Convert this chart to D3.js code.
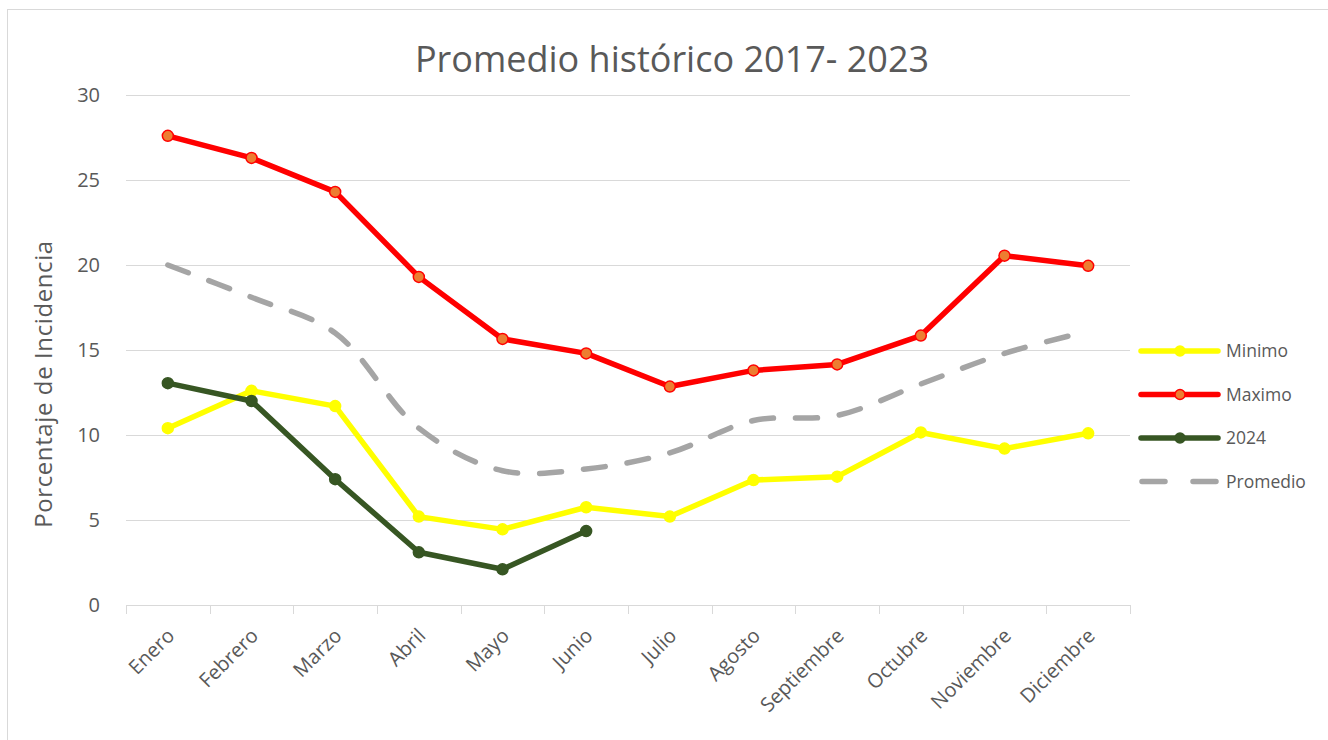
<!DOCTYPE html>
<html>
<head>
<meta charset="utf-8">
<script src="https://cdn.jsdelivr.net/npm/d3@7"></script>
<style>
  html, body { margin: 0; padding: 0; background: #fff; }
  svg { display: block; }
  text { font-family: "Open Sans", "Noto Sans", sans-serif; fill: #595959; }
</style>
</head>
<body>
<svg id="chart" width="1328" height="740"></svg>
<script>
const months = ["Enero","Febrero","Marzo","Abril","Mayo","Junio","Julio","Agosto","Septiembre","Octubre","Noviembre","Diciembre"];
const minimo   = [10.4, 12.6, 11.7, 5.2, 4.45, 5.75, 5.2, 7.35, 7.55, 10.15, 9.2, 10.1];
const maximo   = [27.6, 26.3, 24.3, 19.3, 15.65, 14.8, 12.85, 13.8, 14.15, 15.85, 20.55, 19.95];
const y2024    = [13.05, 12.0, 7.4, 3.1, 2.1, 4.35];
const promedio = [20.0, 18.1, 16.0, 10.4, 7.9, 8.0, 8.95, 10.85, 11.15, 13.0, 14.8, 16.1];
const yTicks   = [0, 5, 10, 15, 20, 25, 30];
const title    = "Promedio histórico 2017- 2023";
const yTitle   = "Porcentaje de Incidencia";

const svg = d3.select("#chart");

// outer chart border
svg.append("rect").attr("x", 7.5).attr("y", 9.5).attr("width", 1340).attr("height", 760)
  .attr("fill", "none").attr("stroke", "#d9d9d9").attr("stroke-width", 1);

const x = d3.scaleBand().domain(months).range([126, 1130]).paddingInner(0).paddingOuter(0);
const y = d3.scaleLinear().domain([0, 30]).range([605, 95]);
const cx = m => x(m) + x.bandwidth() / 2;

// gridlines
svg.append("g").selectAll("line").data(yTicks.filter(t => t > 0)).join("line")
  .attr("x1", 126).attr("x2", 1130)
  .attr("y1", d => Math.round(y(d)) + 0.5).attr("y2", d => Math.round(y(d)) + 0.5)
  .attr("stroke", "#d9d9d9").attr("stroke-width", 1);

// y axis labels
svg.append("g").selectAll("text").data(yTicks).join("text")
  .attr("x", 100).attr("y", d => y(d)).attr("dy", "0.35em")
  .attr("text-anchor", "end").attr("font-size", 20).text(d => d);

// x axis line and ticks
svg.append("line").attr("x1", 126).attr("x2", 1130).attr("y1", 605.5).attr("y2", 605.5)
  .attr("stroke", "#d9d9d9").attr("stroke-width", 1);
const boundaries = months.map(m => x(m)).concat([1130]);
svg.append("g").selectAll("line").data(boundaries).join("line")
  .attr("x1", d => Math.round(d) + 0.5).attr("x2", d => Math.round(d) + 0.5)
  .attr("y1", 605).attr("y2", 614)
  .attr("stroke", "#d9d9d9").attr("stroke-width", 1);

// x labels rotated
svg.append("g").selectAll("text").data(months).join("text")
  .attr("transform", m => `translate(${cx(m) + 3},${632}) rotate(-45)`)
  .attr("text-anchor", "end").attr("dy", "0.35em").attr("font-size", 20).text(m => m);

// title
svg.append("text").attr("x", 672).attr("y", 72).attr("text-anchor", "middle")
  .attr("font-size", 36).text(title);

// y title
svg.append("text").attr("transform", "translate(52,384) rotate(-90)")
  .attr("text-anchor", "middle").attr("font-size", 24).attr("letter-spacing", 0.6).text(yTitle);

const line = d3.line().x((d, i) => cx(months[i])).y(d => y(d));
const smooth = d3.line().x((d, i) => cx(months[i])).y(d => y(d)).curve(d3.curveCatmullRom.alpha(0.5));

// Promedio dashed
svg.append("path").attr("d", smooth(promedio)).attr("fill", "none")
  .attr("stroke", "#a5a5a5").attr("stroke-width", 5.5)
  .attr("stroke-dasharray", "22,22").attr("stroke-linecap", "round");

function series(data, color, markerFill, markerStroke) {
  svg.append("path").attr("d", line(data)).attr("fill", "none")
    .attr("stroke", color).attr("stroke-width", 5.5).attr("stroke-linejoin", "round");
  svg.append("g").selectAll("circle").data(data).join("circle")
    .attr("cx", (d, i) => cx(months[i])).attr("cy", d => y(d)).attr("r", 5.5)
    .attr("fill", markerFill).attr("stroke", markerStroke).attr("stroke-width", 1.5);
}
series(minimo, "#ffff00", "#ffff00", "#ffff00");
series(maximo, "#ff0000", "#ed7d31", "#ff0000");
series(y2024, "#375623", "#375623", "#375623");

// legend
const legend = [
  {name: "Minimo", color: "#ffff00", fill: "#ffff00", stroke: "#ffff00", dash: false},
  {name: "Maximo", color: "#ff0000", fill: "#ed7d31", stroke: "#ff0000", dash: false},
  {name: "2024", color: "#375623", fill: "#375623", stroke: "#375623", dash: false},
  {name: "Promedio", color: "#a5a5a5", dash: true}
];
const lg = svg.append("g").selectAll("g").data(legend).join("g")
  .attr("transform", (d, i) => `translate(0,${351 + i * 43.5})`);
lg.append("line").attr("x1", d => d.dash ? 1142 : 1141).attr("x2", 1218).attr("y1", 0).attr("y2", 0)
  .attr("stroke", d => d.color).attr("stroke-width", 5.5).attr("stroke-linecap", "round")
  .attr("stroke-dasharray", d => d.dash ? "23,28" : null);
lg.filter(d => !d.dash).append("circle").attr("cx", 1180).attr("cy", 0).attr("r", 5)
  .attr("fill", d => d.fill).attr("stroke", d => d.stroke).attr("stroke-width", 1.5);
lg.append("text").attr("x", 1226).attr("y", 0).attr("dy", "0.35em").attr("font-size", 17.5)
  .text(d => d.name);
</script>
</body>
</html>
